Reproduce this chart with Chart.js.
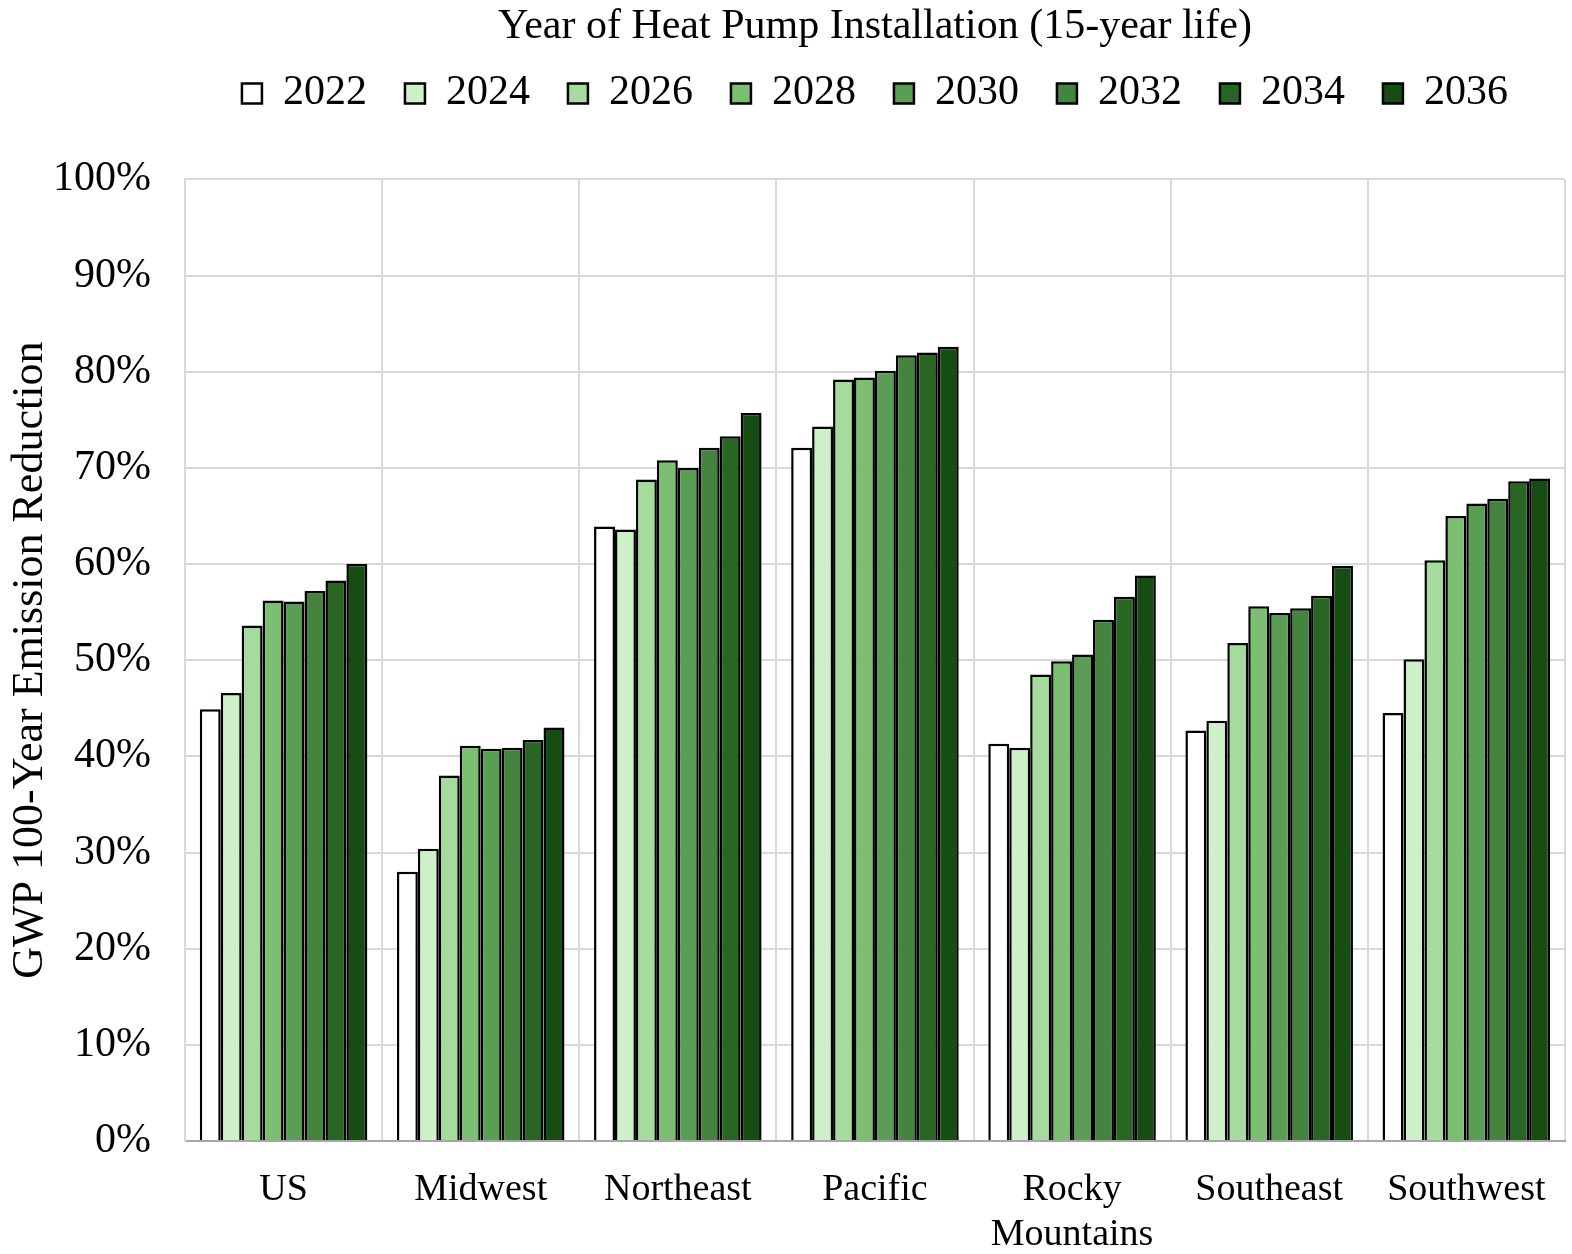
<!DOCTYPE html>
<html>
<head>
<meta charset="utf-8">
<script src="https://cdn.jsdelivr.net/npm/chart.js@4"></script>
<style>
  body { margin: 0; background: #fff; }
  #wrap { width: 1572px; height: 1254px; }
</style>
</head>
<body>
<div id="wrap"><canvas id="chart"></canvas></div>
<script>
const regions = ['US', 'Midwest', 'Northeast', 'Pacific', ['Rocky', 'Mountains'], 'Southeast', 'Southwest'];
const years = ['2022', '2024', '2026', '2028', '2030', '2032', '2034', '2036'];
const colors = ['#ffffff', '#cdf0c9', '#a5db9c', '#7cbf72', '#5a9e55', '#44843e', '#2a6623', '#174c12'];

// one array per installation year, values per region (%)
const y2022 = [44.9, 28.0, 63.9, 72.1, 41.3, 42.7, 44.5];
const y2024 = [46.6, 30.4, 63.6, 74.3, 40.9, 43.7, 50.1];
const y2026 = [53.6, 38.0, 68.8, 79.2, 48.5, 51.8, 60.4];
const y2028 = [56.2, 41.1, 70.8, 79.4, 49.9, 55.6, 65.0];
const y2030 = [56.1, 40.8, 70.0, 80.1, 50.6, 54.9, 66.3];
const y2032 = [57.2, 40.9, 72.1, 81.7, 54.2, 55.4, 66.8];
const y2034 = [58.3, 41.7, 73.3, 82.0, 56.6, 56.7, 68.6];
const y2036 = [60.0, 43.0, 75.7, 82.6, 58.8, 59.8, 68.9];
const series = [y2022, y2024, y2026, y2028, y2030, y2032, y2034, y2036];

const yTicks = [0, 10, 20, 30, 40, 50, 60, 70, 80, 90, 100];

const serif = 'Liberation Serif';

// give the legend some extra room below it
const legendGap = {
  id: 'legendGap',
  afterInit(chart) {
    const fit = chart.legend.fit;
    chart.legend.fit = function() {
      fit.call(this);
      this.height += 55;
    };
  }
};

const ctx = document.getElementById('chart').getContext('2d');
new Chart(ctx, {
  type: 'bar',
  data: {
    labels: regions,
    datasets: series.map((vals, i) => ({
      label: years[i],
      data: vals,
      backgroundColor: colors[i],
      borderColor: '#000',
      borderWidth: 2.5,
      borderSkipped: 'bottom',
      categoryPercentage: 0.85,
      barPercentage: 1.0
    }))
  },
  options: {
    responsive: true,
    maintainAspectRatio: false,
    animation: false,
    layout: { padding: { left: 4, right: 5, top: 2, bottom: 4 } },
    plugins: {
      title: {
        display: true,
        text: 'Year of Heat Pump Installation (15-year life)',
        color: '#000',
        fullSize: false,
        font: { family: serif, size: 42, weight: 'normal' },
        padding: { top: 0, bottom: -18 }
      },
      legend: {
        position: 'top',
        fullSize: false,
        labels: {
          color: '#000',
          font: { family: serif, size: 42 },
          boxWidth: 20,
          boxHeight: 20,
          padding: 38
        }
      },
      tooltip: { enabled: false }
    },
    scales: {
      x: {
        afterFit: axis => { axis.height = 109; },
        grid: { offset: true, color: '#d9d9d9', lineWidth: 2, drawTicks: false },
        border: { color: '#a6a6a6', width: 2 },
        ticks: { color: '#000', font: { family: serif, size: 38 }, padding: 26, maxRotation: 0, autoSkip: false }
      },
      y: {
        min: 0,
        max: 100,
        afterFit: axis => { axis.width = 181; },
        afterBuildTicks: axis => { axis.ticks = yTicks.map(v => ({ value: v })); },
        grid: { color: '#d9d9d9', lineWidth: 2, drawTicks: false },
        border: { color: '#d9d9d9', width: 2 },
        ticks: { color: '#000', font: { family: serif, size: 42 }, padding: 34, callback: v => v + '%' },
        title: {
          display: true,
          text: 'GWP 100-Year Emission Reduction',
          color: '#000',
          font: { family: serif, size: 44 },
          padding: { top: 0, bottom: 0 }
        }
      }
    }
  },
  plugins: [legendGap]
});
</script>
</body>
</html>
